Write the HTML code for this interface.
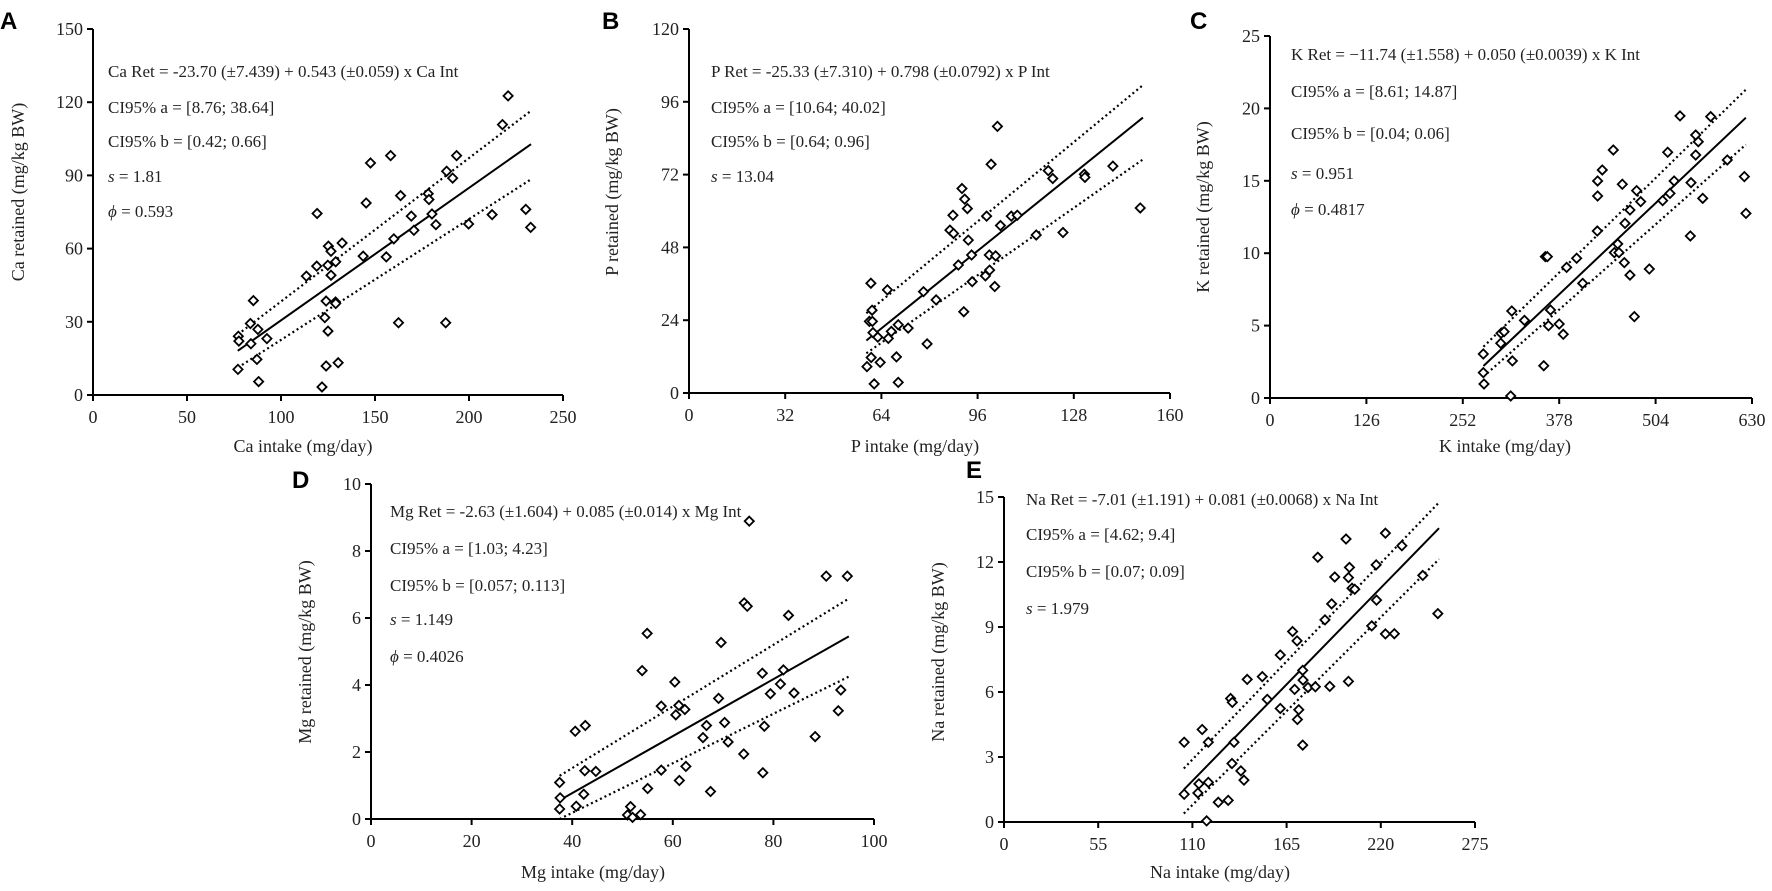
<!DOCTYPE html>
<html><head><meta charset="utf-8"><style>
html,body{margin:0;padding:0;background:#fff;}
svg{display:block;font-family:"Liberation Serif",serif;}
.pl{font-family:"Liberation Sans",sans-serif;font-weight:bold;font-size:24px;}
</style></head><body>
<svg id="fig" width="1772" height="891" viewBox="0 0 1772 891" xmlns="http://www.w3.org/2000/svg"></svg>
<script>
// ---- Panel A (Ca) ----
const caX=[220.8,217.8,193.4,158.3,147.6,188.1,191.3,145.3,163.6,178.3,178.7,169.3,180.3,170.7,182.4,199.8,212.3,119.2,160.0,143.7,156.0,132.5,125.2,126.6,113.5,119.0,124.9,129.1,126.6,124.0,129.0,129.1,123.3,125.0,162.5,187.6,85.3,83.7,87.7,77.3,77.6,84.0,92.5,87.2,77.1,88.1,124.0,130.4,121.8,230.2,232.8];
const caY=[122.6,110.8,98.1,98.1,95.1,91.7,88.9,78.7,81.7,82.5,80.1,73.3,74.2,67.5,69.8,70.1,73.9,74.4,64.0,56.9,56.6,62.3,61.0,58.9,48.7,52.8,53.2,54.6,49.1,38.5,38.1,37.5,31.7,26.2,29.6,29.6,38.7,29.3,26.9,24.1,22.1,21.0,23.1,14.6,10.5,5.5,11.9,13.2,3.3,76.1,68.7];
const caFitX=[77,233], caFitY=[18.1,102.8], caUpY=[24.8,116.5], caLoY=[11.2,88.4];
const caXTicks=[0,50,100,150,200,250], caYTicks=[0,30,60,90,120,150];
// ---- Panel B (P) ----
const pX=[102.6,100.5,90.8,91.7,92.6,87.8,99.0,107.2,109.2,103.6,119.5,121.0,115.5,124.4,131.5,131.7,141.0,150.1,86.8,88.0,92.9,94.0,89.6,99.9,102.0,100.0,98.6,94.2,101.7,78.0,82.2,91.4,60.5,66.0,60.9,60.0,61.0,61.2,62.8,67.3,66.3,69.6,72.9,79.2,60.6,63.6,69.0,59.2,61.6,69.6];
const pY=[87.9,75.4,67.4,63.9,60.8,58.6,58.3,58.3,58.6,55.2,73.3,70.7,52.1,52.9,72.1,71.1,74.8,61.0,53.7,52.6,50.4,45.5,42.2,45.5,45.2,40.5,38.6,36.7,35.1,33.4,30.7,26.8,36.2,34.0,27.3,23.6,23.6,19.9,18.4,20.3,18.0,22.5,21.4,16.2,11.7,10.1,11.9,8.7,3.0,3.5];
const pFitX=[59,151], pFitY=[17.3,90.8], pUpY=[26.3,101.5], pLoY=[13.1,77.0];
const pXTicks=[0,32,64,96,128,160], pYTicks=[0,24,48,72,96,120];
// ---- Panel C (K) ----
const kX=[535.9,576.0,556.4,559.8,448.7,519.8,556.4,597.7,434.3,428.2,460.5,479.2,528.2,550.3,620.0,428.2,522.8,513.2,484.5,470.5,565.6,464.0,622.1,427.8,549.4,454.5,450.1,456.1,463.1,470.5,495.8,400.8,387.7,408.7,476.2,359.9,362.5,316.0,332.6,366.6,364.0,378.0,383.3,302.0,306.0,301.6,278.8,316.8,357.8,278.8,279.7,314.6];
const kY=[19.48,19.43,18.16,17.70,17.13,16.97,16.78,16.44,15.75,14.99,14.76,14.32,14.99,14.87,15.29,13.95,14.13,13.63,13.56,12.98,13.79,12.06,12.75,11.53,11.19,10.64,10.04,10.04,9.35,8.49,8.91,9.65,9.02,7.92,5.62,9.76,9.76,6.01,5.36,6.08,4.99,5.11,4.40,4.47,4.58,3.78,3.04,2.56,2.23,1.75,0.97,0.14];
const kFitX=[279,622], kFitY=[2.21,19.36], kUpY=[3.54,21.3], kLoY=[1.48,17.5];
const kXTicks=[0,126,252,378,504,630], kYTicks=[0,5,10,15,20,25];
// ---- Panel D (Mg) ----
const mgX=[75.2,90.5,94.7,74.2,74.8,83.0,54.9,69.6,53.9,77.8,82.0,60.4,81.4,79.4,84.1,93.4,57.7,61.2,62.4,60.6,69.1,92.9,70.3,66.7,78.2,40.6,42.6,66.0,88.3,71.0,74.1,42.5,44.7,57.7,62.6,77.9,37.5,61.3,55.0,67.5,42.3,37.6,37.5,40.8,51.6,51.0,52.0,53.6];
const mgY=[8.89,7.25,7.25,6.45,6.35,6.08,5.54,5.27,4.43,4.35,4.45,4.09,4.03,3.74,3.76,3.85,3.37,3.39,3.27,3.11,3.60,3.23,2.88,2.79,2.77,2.62,2.79,2.43,2.46,2.30,1.94,1.44,1.42,1.46,1.57,1.38,1.09,1.15,0.91,0.82,0.74,0.63,0.30,0.38,0.37,0.12,0.05,0.13];
const mgFitX=[37.5,95], mgFitY=[0.56,5.45], mgUpY=[1.29,6.58], mgLoY=[-0.09,4.25];
const mgXTicks=[0,20,40,60,80,100], mgYTicks=[0,2,4,6,8,10];
// ---- Panel E (Na) ----
const naX=[222.7,199.7,232.3,183.2,217.3,201.7,193.1,201.1,244.5,203.2,204.8,191.3,217.5,253.3,187.4,214.7,222.7,227.9,168.5,171.1,161.3,150.8,142.0,174.4,174.6,169.7,177.5,181.8,190.2,201.1,153.7,132.3,133.3,161.3,172.1,171.3,174.4,115.7,105.2,119.3,134.3,133.1,138.3,140.1,113.8,119.3,113.2,105.2,125.1,130.9,118.3];
const naY=[13.33,13.06,12.75,12.22,11.87,11.75,11.31,11.28,11.38,10.79,10.74,10.07,10.24,9.62,9.33,9.05,8.68,8.69,8.79,8.36,7.71,6.71,6.58,7.00,6.55,6.12,6.21,6.24,6.26,6.49,5.66,5.70,5.52,5.24,5.18,4.73,3.55,4.27,3.68,3.68,3.68,2.70,2.36,1.93,1.76,1.83,1.34,1.28,0.91,1.00,0.05];
const naFitX=[105,254], naFitY=[1.49,13.56], naUpY=[2.47,14.75], naLoY=[0.39,12.13];
const naXTicks=[0,55,110,165,220,275], naYTicks=[0,3,6,9,12,15];

const NS="http://www.w3.org/2000/svg";
const svg=document.getElementById('fig');
function mk(tag,attrs,parent){const e=document.createElementNS(NS,tag);for(const k in attrs)e.setAttribute(k,attrs[k]);(parent||svg).appendChild(e);return e;}

const panels=[
 {id:'ca',letter:'A',lx:0,ly:29,x0:93,x1:563,y0:395,y1:29,X:caX,Y:caY,fx:caFitX,fy:caFitY,uy:caUpY,ly2:caLoY,xt:caXTicks,yt:caYTicks,
  xtitle:'Ca intake (mg/day)',xtx:303,xty:452,ytitle:'Ca retained (mg/kg BW)',ytx:24,yty:192,
  tx:108,ty:[71,107,141,176,211],lines:['Ca Ret = -23.70 (±7.439) + 0.543 (±0.059) x Ca Int','CI95% a = [8.76; 38.64]','CI95% b = [0.42; 0.66]','S = 1.81','P = 0.593']},
 {id:'p',letter:'B',lx:602,ly:29,x0:689,x1:1170,y0:393,y1:29,X:pX,Y:pY,fx:pFitX,fy:pFitY,uy:pUpY,ly2:pLoY,xt:pXTicks,yt:pYTicks,
  xtitle:'P intake (mg/day)',xtx:915,xty:452,ytitle:'P retained (mg/kg BW)',ytx:618,yty:192,
  tx:711,ty:[71,107,141,176],lines:['P Ret = -25.33 (±7.310) + 0.798 (±0.0792) x P Int','CI95% a = [10.64; 40.02]','CI95% b = [0.64; 0.96]','S = 13.04']},
 {id:'k',letter:'C',lx:1190,ly:29,x0:1270,x1:1752,y0:398,y1:36,X:kX,Y:kY,fx:kFitX,fy:kFitY,uy:kUpY,ly2:kLoY,xt:kXTicks,yt:kYTicks,
  xtitle:'K intake (mg/day)',xtx:1505,xty:452,ytitle:'K retained (mg/kg BW)',ytx:1209,yty:207,
  tx:1291,ty:[54,91,133,173,209],lines:['K Ret = −11.74 (±1.558) + 0.050 (±0.0039) x K Int','CI95% a = [8.61; 14.87]','CI95% b = [0.04; 0.06]','S = 0.951','P = 0.4817']},
 {id:'mg',letter:'D',lx:292,ly:488,x0:371,x1:874,y0:819,y1:484,X:mgX,Y:mgY,fx:mgFitX,fy:mgFitY,uy:mgUpY,ly2:mgLoY,xt:mgXTicks,yt:mgYTicks,
  xtitle:'Mg intake (mg/day)',xtx:593,xty:878,ytitle:'Mg retained (mg/kg BW)',ytx:311,yty:652,
  tx:390,ty:[511,548,585,619,656],lines:['Mg Ret = -2.63 (±1.604) + 0.085 (±0.014) x Mg Int','CI95% a = [1.03; 4.23]','CI95% b = [0.057; 0.113]','S = 1.149','P = 0.4026']},
 {id:'na',letter:'E',lx:966,ly:478,x0:1004,x1:1475,y0:822,y1:497,X:naX,Y:naY,fx:naFitX,fy:naFitY,uy:naUpY,ly2:naLoY,xt:naXTicks,yt:naYTicks,
  xtitle:'Na intake (mg/day)',xtx:1220,xty:878,ytitle:'Na retained (mg/kg BW)',ytx:944,yty:652,
  tx:1026,ty:[499,534,571,608],lines:['Na Ret = -7.01 (±1.191) + 0.081 (±0.0068) x Na Int','CI95% a = [4.62; 9.4]','CI95% b = [0.07; 0.09]','S = 1.979']}
];

panels.forEach(p=>{
  const xmin=p.xt[0],xmax=p.xt[p.xt.length-1],ymin=p.yt[0],ymax=p.yt[p.yt.length-1];
  const sx=v=>p.x0+(v-xmin)/(xmax-xmin)*(p.x1-p.x0);
  const sy=v=>p.y0-(v-ymin)/(ymax-ymin)*(p.y0-p.y1);
  const g=mk('g',{});
  
  
  const L=mk('text',{x:p.lx,y:p.ly,class:'pl'},g);L.textContent=p.letter;
  
  
  // axes
  const ax=mk('line',{x1:p.x0,y1:p.y0,x2:p.x1,y2:p.y0,stroke:'#000','stroke-width':2},g);
  
  
  const ay=mk('line',{x1:p.x0,y1:p.y0,x2:p.x0,y2:p.y1,stroke:'#000','stroke-width':2},g);
  
  
  p.xt.forEach(t=>{
    const X=sx(t);
    mk('line',{x1:X,y1:p.y0,x2:X,y2:p.y0+6,stroke:'#000','stroke-width':2},g);
    const tl=mk('text',{x:X,y:p.y0+28,'text-anchor':'middle','font-size':18,fill:'#222'},g);tl.textContent=t;
    
    
  });
  p.yt.forEach(t=>{
    const Y=sy(t);
    mk('line',{x1:p.x0-6,y1:Y,x2:p.x0,y2:Y,stroke:'#000','stroke-width':2},g);
    const tl=mk('text',{x:p.x0-10,y:Y+6,'text-anchor':'end','font-size':18,fill:'#222'},g);tl.textContent=t;
    
    
  });
  const xtl=mk('text',{x:p.xtx,y:p.xty,'text-anchor':'middle','font-size':18,fill:'#222'},g);xtl.textContent=p.xtitle;
  
  
  const ytl=mk('text',{x:0,y:0,'text-anchor':'middle','font-size':18,fill:'#222',transform:`translate(${p.ytx},${p.yty}) rotate(-90)`},g);ytl.textContent=p.ytitle;
  
  
  // annotation
  p.lines.forEach((s,i)=>{
    const t=mk('text',{x:p.tx,y:p.ty[i]+6,'font-size':17,fill:'#222'},g);
    if(s.startsWith('S = ')){const a=mk('tspan',{'font-style':'italic'},t);a.textContent='s';const b=mk('tspan',{},t);b.textContent=' = '+s.slice(4);}
    else if(s.startsWith('P = ')){const a=mk('tspan',{'font-style':'italic'},t);a.textContent='ϕ';const b=mk('tspan',{},t);b.textContent=' = '+s.slice(4);}
    else t.textContent=s;
    
    
  });
  // regression + CI lines
  const fit=mk('line',{x1:sx(p.fx[0]),y1:sy(p.fy[0]),x2:sx(p.fx[1]),y2:sy(p.fy[1]),stroke:'#000','stroke-width':2},g);
  
  
  const up=mk('line',{x1:sx(p.fx[0]),y1:sy(p.uy[0]),x2:sx(p.fx[1]),y2:sy(p.uy[1]),stroke:'#000','stroke-width':2.2,'stroke-dasharray':'2 3'},g);
  
  
  const lo=mk('line',{x1:sx(p.fx[0]),y1:Math.min(sy(p.ly2[0]),p.y0),x2:sx(p.fx[1]),y2:sy(p.ly2[1]),stroke:'#000','stroke-width':2.2,'stroke-dasharray':'2 3'},g);
  
  
  // points
  p.X.forEach((v,i)=>{
    const cx=sx(v),cy=sy(p.Y[i]),r=4.6;
    const d=mk('polygon',{points:`${cx},${cy-r} ${cx+r},${cy} ${cx},${cy+r} ${cx-r},${cy}`,fill:'#fff',stroke:'#000','stroke-width':1.8},g);
    
    
  });
});
</script>
</body></html>
